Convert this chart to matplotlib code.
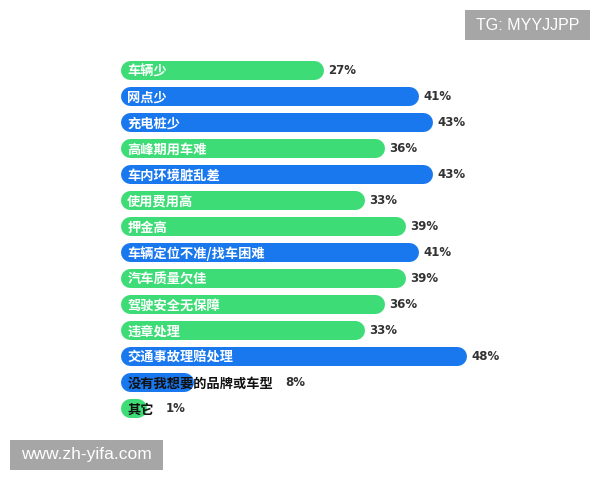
import matplotlib
matplotlib.use("Agg")
import matplotlib.pyplot as plt
from matplotlib.patches import Rectangle

plt.rcParams['font.family'] = ['Noto Sans CJK SC', 'DejaVu Sans']

categories = ["车辆少", "网点少", "充电桩少", "高峰期用车难", "车内环境脏乱差", "使用费用高",
              "押金高", "车辆定位不准/找车困难", "汽车质量欠佳", "驾驶安全无保障", "违章处理",
              "交通事故理赔处理", "没有我想要的品牌或车型", "其它"]
values = [27, 41, 43, 36, 43, 33, 39, 41, 39, 36, 33, 48, 8, 1]
colors_key = ["g", "b", "b", "g", "b", "g", "g", "b", "g", "g", "g", "b", "b", "g"]

GREEN = "#3ddc76"
BLUE = "#1a78ee"
cmap = {"g": GREEN, "b": BLUE}

fig = plt.figure(figsize=(6, 4.8), dpi=100)
ax = fig.add_axes([0, 0, 1, 1])
px = 6.81  # pixels per percent
x0 = 130.0
ax.set_xlim(-x0 / px, (600 - x0) / px)
ax.set_ylim((480 - 70) / 26.0, -70 / 26.0)
ax.axis("off")

lw_pt = 19 * 72 / 100
dy = 2.0 / 26.0
texts = []
for i, (c, v, k) in enumerate(zip(categories, values, colors_key)):
    ax.plot([0, v], [i, i], color=cmap[k], linewidth=lw_pt, solid_capstyle="round", zorder=1)
    tc = "white" if v > 20 else "#111111"
    t = ax.text(-0.4, i + dy, c, color=tc, fontsize=9.5, fontweight="bold", va="center", ha="left", zorder=3)
    texts.append(t)

fig.canvas.draw()
r = fig.canvas.get_renderer()
inv = ax.transData.inverted()
for i, (v, t) in enumerate(zip(values, texts)):
    bb = t.get_window_extent(r)
    text_end = inv.transform((bb.x1, 0))[0]
    bar_end = v + 9.5 / px
    if text_end > bar_end:
        xpos = text_end + 12 / px
    else:
        xpos = bar_end + 5 / px
    ax.text(xpos, i + dy * 0.5, f"{v}%", color="#333333", fontsize=8.5, fontweight="bold",
            va="center", ha="left", family=["DejaVu Sans"])

# watermark boxes
W, H = 600.0, 480.0
fig.patches.append(Rectangle((465 / W, 1 - 40 / H), 125 / W, 30 / H, transform=fig.transFigure,
                             fc="#a6a6a6", ec="none"))
fig.text(527.5 / W, 1 - 25 / H, "TG: MYYJJPP", color="white", fontsize=11.5,
         ha="center", va="center", family=["Liberation Sans"])
fig.patches.append(Rectangle((10 / W, 1 - 470 / H), 153 / W, 30 / H, transform=fig.transFigure,
                             fc="#a6a6a6", ec="none"))
fig.text(86.5 / W, 1 - 455 / H, "www.zh-yifa.com", color="white", fontsize=12.5,
         ha="center", va="center", family=["Liberation Sans"])

fig.savefig("out.png", dpi=100)
